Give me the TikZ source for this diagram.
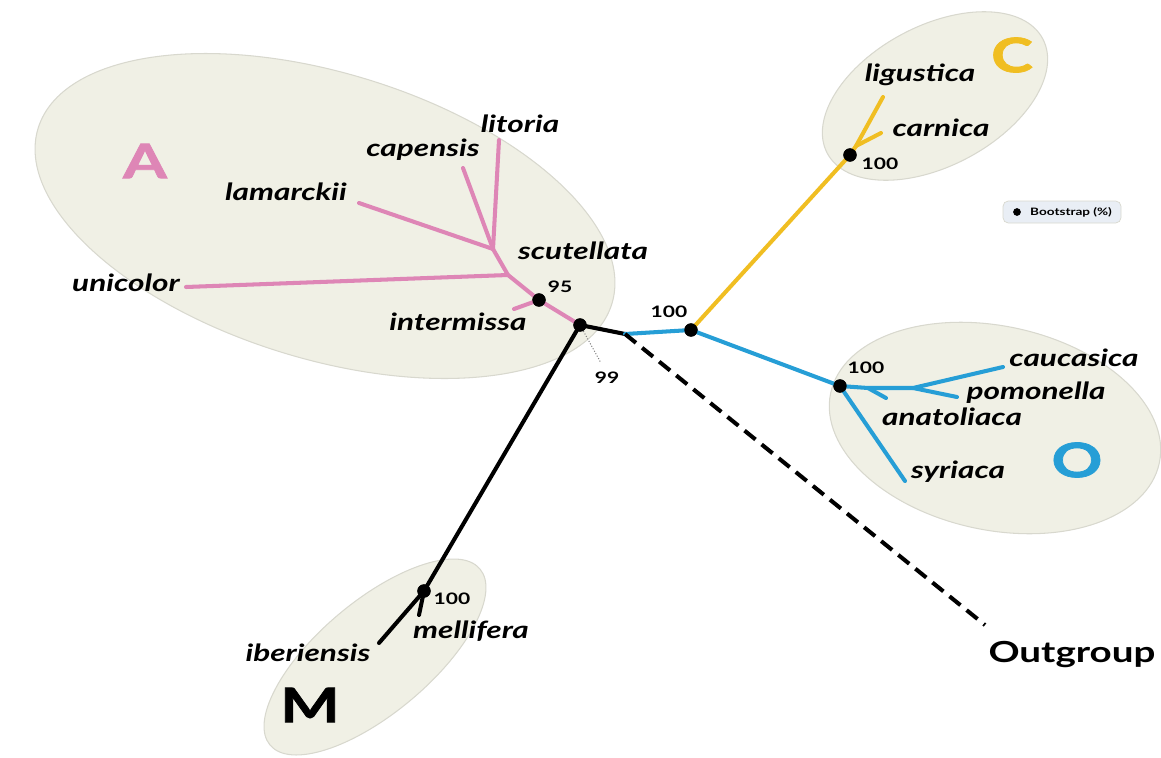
\documentclass[tikz,border=0pt]{standalone}
\usepackage{fontspec}
\setmainfont{Lato}[FakeStretch=1.33]
\newfontfamily\heavyfont{Lato}[FakeStretch=1.33,FakeBold=1.6]
\usetikzlibrary{positioning}

\definecolor{cladefill}{RGB}{240,240,229}
\definecolor{cladeline}{RGB}{216,216,206}
\definecolor{linA}{RGB}{222,134,182}
\definecolor{linC}{RGB}{240,190,34}
\definecolor{linO}{RGB}{38,158,214}
\definecolor{legfill}{RGB}{233,238,245}

\begin{document}
\begin{tikzpicture}[x=0.02cm,y=-0.02cm,
  clade/.style={fill=cladefill,draw=cladeline,line width=0.6pt},
  branch/.style={line width=2.3pt,line cap=round},
  boot/.style={circle,fill=black,inner sep=0pt,minimum size=7.5pt},
  taxon/.style={font=\fontsize{13.5}{16}\selectfont\bfseries\itshape,inner sep=1pt},
  bsval/.style={font=\fontsize{9}{11}\selectfont\bfseries,inner sep=1pt},
  grpletter/.style={font=\heavyfont\fontsize{27}{30}\selectfont\bfseries,inner sep=0pt}]
\useasboundingbox (0,0) rectangle (1161,758);

% clades
\draw[clade,rotate around={-17:(325,216)}] (325,216) ellipse [x radius=300,y radius=143];
\draw[clade,rotate around={28:(935,96)}] (935,96) ellipse [x radius=122,y radius=70];
\draw[clade,rotate around={-12:(995,428)}] (995,428) ellipse [x radius=168,y radius=102];
\draw[clade,rotate around={40:(375,657)}] (375,657) ellipse [x radius=137,y radius=56];

% inner vertices
\node[boot] (root) at (580,325) {};
\node[boot] (nA) at (539,300) {};
\node[boot] (nCO) at (691,330) {};
\node[boot] (nC) at (850,155) {};
\node[boot] (nO) at (840,386) {};
\node[boot] (nM) at (424,591) {};
\coordinate (kink) at (625,334);
\coordinate (a1) at (508,275);
\coordinate (a2) at (493,249);
\coordinate (c1) at (856,146);
\coordinate (o1) at (913,388);
\coordinate (o2) at (868,388);

% tips
\coordinate (tUni) at (186,287);
\coordinate (tLam) at (359,203);
\coordinate (tCap) at (463,168);
\coordinate (tLit) at (499,140);
\coordinate (tInt) at (514,309);
\coordinate (tLig) at (883,97);
\coordinate (tCar) at (881,133);
\coordinate (tCau) at (1003,367);
\coordinate (tPom) at (957,397);
\coordinate (tAna) at (886,398);
\coordinate (tSyr) at (905,481);
\coordinate (tIbe) at (379,643);
\coordinate (tMel) at (419,615);
\coordinate (tOut) at (985,625);

% A lineage
\draw[branch,linA] (root.center) -- (nA.center) -- (a1) -- (a2);
\draw[branch,linA] (nA.center) -- (tInt);
\draw[branch,linA] (a1) -- (tUni);
\draw[branch,linA] (a2) -- (tLam);
\draw[branch,linA] (a2) -- (tCap);
\draw[branch,linA] (a2) -- (tLit);
% C and O lineages
\draw[branch] (root.center) -- (kink);
\draw[branch,linO] (kink) -- (nCO.center) -- (nO.center) -- (o2) -- (o1) -- (tCau);
\draw[branch,linO] (o1) -- (tPom);
\draw[branch,linO] (o2) -- (tAna);
\draw[branch,linO] (nO.center) -- (tSyr);
\draw[branch,linC] (nCO.center) -- (nC.center) -- (c1) -- (tLig);
\draw[branch,linC] (c1) -- (tCar);
% M lineage
\draw[branch] (root.center) -- (nM.center) -- (tIbe);
\draw[branch] (nM.center) -- (tMel);
% outgroup
\draw[line width=2.3pt,dash pattern=on 8pt off 4.5pt] (kink) -- (tOut);
\draw[densely dotted,gray,line width=0.6pt] (root) -- (601,363);

% dots on top
\foreach \v in {root,nA,nCO,nC,nO,nM}
  \fill (\v.center) circle [radius=3.8pt];

% taxa
\node[taxon] (litoria) at (520,124) {litoria};
\node[taxon] (capensis) at (423,150) {capensis};
\node[taxon] (lamarckii) at (286,192) {lamarckii};
\node[taxon] (unicolor) at (126,283) {unicolor};
\node[taxon] (scutellata) at (583,251) {scutellata};
\node[taxon] (intermissa) at (458,322) {intermissa};
\node[taxon] (ligustica) at (920,75) {ligustica};
\node[taxon] (carnica) at (941,128) {carnica};
\node[taxon] (caucasica) at (1074,358) {caucasica};
\node[taxon] (pomonella) at (1036,393) {pomonella};
\node[taxon] (anatoliaca) at (952,417) {anatoliaca};
\node[taxon] (syriaca) at (958,472) {syriaca};
\node[taxon] (mellifera) at (471,631) {mellifera};
\node[taxon] (iberiensis) at (308,653) {iberiensis};
\node[font=\fontsize{16.5}{19}\selectfont\bfseries] (outgroup) at (1072,655) {Outgroup};

% bootstrap values
\node[bsval] (bsA) at (560,287) {95};
\node[bsval] (bsRoot) at (607,378) {99};
\node[bsval] (bsCO) at (669,312) {100};
\node[bsval] (bsC) at (880,164) {100};
\node[bsval] (bsO) at (866,368) {100};
\node[bsval] (bsM) at (452,599) {100};

% group letters
\node[grpletter,text=linA] (grpA) at (145,161) {A};
\node[grpletter,text=linC] (grpC) at (1012,55) {C};
\node[grpletter,text=linO] (grpO) at (1077,460) {O};
\node[grpletter] (grpM) at (310,705) {M};

% legend
\node[draw=cladeline,fill=legfill,rounded corners=3pt,minimum width=118*0.02cm,
  minimum height=22*0.02cm,inner sep=0pt] (legend) at (1062,212) {};
\fill (1017,212) circle [radius=2.2pt];
\node[font=\fontsize{5.8}{7}\selectfont\bfseries,anchor=west] (legtext) at (1024,212) {Bootstrap (\%)};
\end{tikzpicture}
\end{document}
